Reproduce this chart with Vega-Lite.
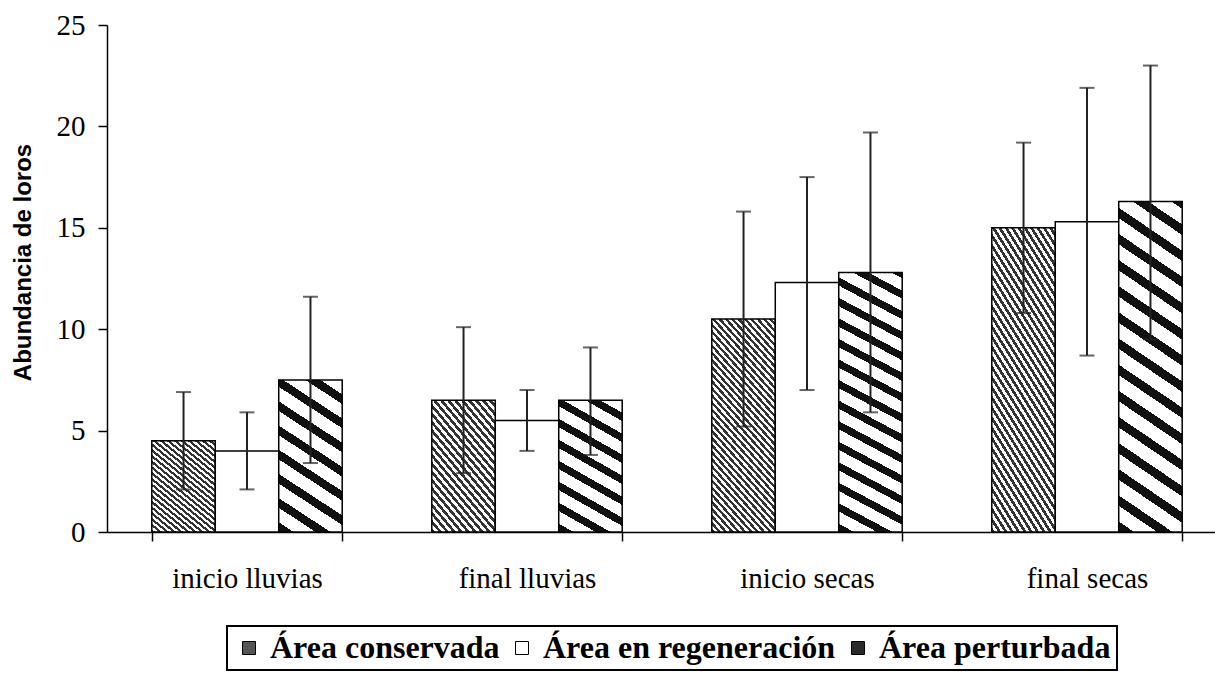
{
  "$schema": "https://vega.github.io/schema/vega-lite/v6.json",
  "width": 1108,
  "height": 507,
  "autosize": {"type": "none"},
  "padding": {"left": 107, "top": 25, "right": 0, "bottom": 143},
  "background": "white",
  "config": {
    "view": {"stroke": null},
    "axis": {"domainColor": "black", "domainWidth": 1.5, "tickColor": "black", "tickWidth": 1.5, "grid": false, "labelColor": "black"}
  },
  "data": {
    "values": [
      {"temporada": "inicio lluvias", "area": "Área conservada", "media": 4.5, "min": 2.1, "max": 6.9},
      {"temporada": "inicio lluvias", "area": "Área en regeneración", "media": 4.0, "min": 2.1, "max": 5.9},
      {"temporada": "inicio lluvias", "area": "Área perturbada", "media": 7.5, "min": 3.4, "max": 11.6},
      {"temporada": "final lluvias", "area": "Área conservada", "media": 6.5, "min": 2.9, "max": 10.1},
      {"temporada": "final lluvias", "area": "Área en regeneración", "media": 5.5, "min": 4.0, "max": 7.0},
      {"temporada": "final lluvias", "area": "Área perturbada", "media": 6.5, "min": 3.8, "max": 9.1},
      {"temporada": "inicio secas", "area": "Área conservada", "media": 10.5, "min": 5.2, "max": 15.8},
      {"temporada": "inicio secas", "area": "Área en regeneración", "media": 12.3, "min": 7.0, "max": 17.5},
      {"temporada": "inicio secas", "area": "Área perturbada", "media": 12.8, "min": 5.9, "max": 19.7},
      {"temporada": "final secas", "area": "Área conservada", "media": 15.0, "min": 10.8, "max": 19.2},
      {"temporada": "final secas", "area": "Área en regeneración", "media": 15.3, "min": 8.7, "max": 21.9},
      {"temporada": "final secas", "area": "Área perturbada", "media": 16.3, "min": 9.5, "max": 23.0}
    ]
  },
  "encoding": {
    "x": {
      "field": "temporada",
      "type": "nominal",
      "sort": ["inicio lluvias", "final lluvias", "inicio secas", "final secas"],
      "scale": {"range": [0, 1120], "paddingInner": 0.32, "paddingOuter": 0.16},
      "axis": {
        "title": null,
        "labelAngle": 0,
        "labelFont": "Liberation Serif",
        "labelFontSize": 29,
        "labelPadding": 23,
        "tickBand": "extent",
        "tickSize": 9
      }
    },
    "xOffset": {
      "field": "area",
      "type": "nominal",
      "sort": ["Área conservada", "Área en regeneración", "Área perturbada"],
      "scale": {"paddingInner": 0, "paddingOuter": 0}
    }
  },
  "layer": [
    {
      "mark": {"type": "bar", "stroke": "black", "strokeWidth": 1.5},
      "encoding": {
        "y": {
          "field": "media",
          "type": "quantitative",
          "title": "Abundancia de loros",
          "scale": {"domain": [0, 25], "nice": false},
          "axis": {
            "values": [0, 5, 10, 15, 20, 25],
            "labelFont": "Liberation Serif",
            "labelFontSize": 29,
            "labelPadding": 13,
            "tickSize": 9,
            "titleFont": "Liberation Sans",
            "titleFontSize": 24,
            "titleFontWeight": "bold",
            "titleColor": "black",
            "titleAngle": -90,
            "titleAlign": "center",
            "titleBaseline": "middle",
            "titleX": -84,
            "titleY": 237
          }
        },
        "fill": {
          "field": "area",
          "type": "nominal",
          "scale": {
            "domain": ["Área conservada", "Área en regeneración", "Área perturbada"],
            "range": ["#555555", "#ffffff", "#2a2a2a"]
          },
          "condition": [
            {
              "test": "datum.area === 'Área conservada' && indexof(datum.temporada, 'lluvias') >= 0",
              "value": {
                "gradient": "linear", "x1": 0, "y1": 1, "x2": 0.677, "y2": -0.185,
                "stops": [
                  {"offset": 0, "color": "#333"}, {"offset": 0.02, "color": "#333"}, {"offset": 0.02, "color": "#fff"}, {"offset": 0.04, "color": "#fff"},
                  {"offset": 0.04, "color": "#333"}, {"offset": 0.06, "color": "#333"}, {"offset": 0.06, "color": "#fff"}, {"offset": 0.08, "color": "#fff"},
                  {"offset": 0.08, "color": "#333"}, {"offset": 0.1, "color": "#333"}, {"offset": 0.1, "color": "#fff"}, {"offset": 0.12, "color": "#fff"},
                  {"offset": 0.12, "color": "#333"}, {"offset": 0.14, "color": "#333"}, {"offset": 0.14, "color": "#fff"}, {"offset": 0.16, "color": "#fff"},
                  {"offset": 0.16, "color": "#333"}, {"offset": 0.18, "color": "#333"}, {"offset": 0.18, "color": "#fff"}, {"offset": 0.2, "color": "#fff"},
                  {"offset": 0.2, "color": "#333"}, {"offset": 0.22, "color": "#333"}, {"offset": 0.22, "color": "#fff"}, {"offset": 0.24, "color": "#fff"},
                  {"offset": 0.24, "color": "#333"}, {"offset": 0.26, "color": "#333"}, {"offset": 0.26, "color": "#fff"}, {"offset": 0.28, "color": "#fff"},
                  {"offset": 0.28, "color": "#333"}, {"offset": 0.3, "color": "#333"}, {"offset": 0.3, "color": "#fff"}, {"offset": 0.32, "color": "#fff"},
                  {"offset": 0.32, "color": "#333"}, {"offset": 0.34, "color": "#333"}, {"offset": 0.34, "color": "#fff"}, {"offset": 0.36, "color": "#fff"},
                  {"offset": 0.36, "color": "#333"}, {"offset": 0.38, "color": "#333"}, {"offset": 0.38, "color": "#fff"}, {"offset": 0.4, "color": "#fff"},
                  {"offset": 0.4, "color": "#333"}, {"offset": 0.42, "color": "#333"}, {"offset": 0.42, "color": "#fff"}, {"offset": 0.44, "color": "#fff"},
                  {"offset": 0.44, "color": "#333"}, {"offset": 0.46, "color": "#333"}, {"offset": 0.46, "color": "#fff"}, {"offset": 0.48, "color": "#fff"},
                  {"offset": 0.48, "color": "#333"}, {"offset": 0.5, "color": "#333"}, {"offset": 0.5, "color": "#fff"}, {"offset": 0.52, "color": "#fff"},
                  {"offset": 0.52, "color": "#333"}, {"offset": 0.54, "color": "#333"}, {"offset": 0.54, "color": "#fff"}, {"offset": 0.56, "color": "#fff"},
                  {"offset": 0.56, "color": "#333"}, {"offset": 0.58, "color": "#333"}, {"offset": 0.58, "color": "#fff"}, {"offset": 0.6, "color": "#fff"},
                  {"offset": 0.6, "color": "#333"}, {"offset": 0.62, "color": "#333"}, {"offset": 0.62, "color": "#fff"}, {"offset": 0.64, "color": "#fff"},
                  {"offset": 0.64, "color": "#333"}, {"offset": 0.66, "color": "#333"}, {"offset": 0.66, "color": "#fff"}, {"offset": 0.68, "color": "#fff"},
                  {"offset": 0.68, "color": "#333"}, {"offset": 0.7, "color": "#333"}, {"offset": 0.7, "color": "#fff"}, {"offset": 0.72, "color": "#fff"},
                  {"offset": 0.72, "color": "#333"}, {"offset": 0.74, "color": "#333"}, {"offset": 0.74, "color": "#fff"}, {"offset": 0.76, "color": "#fff"},
                  {"offset": 0.76, "color": "#333"}, {"offset": 0.78, "color": "#333"}, {"offset": 0.78, "color": "#fff"}, {"offset": 0.8, "color": "#fff"},
                  {"offset": 0.8, "color": "#333"}, {"offset": 0.82, "color": "#333"}, {"offset": 0.82, "color": "#fff"}, {"offset": 0.84, "color": "#fff"},
                  {"offset": 0.84, "color": "#333"}, {"offset": 0.86, "color": "#333"}, {"offset": 0.86, "color": "#fff"}, {"offset": 0.88, "color": "#fff"},
                  {"offset": 0.88, "color": "#333"}, {"offset": 0.9, "color": "#333"}, {"offset": 0.9, "color": "#fff"}, {"offset": 0.92, "color": "#fff"},
                  {"offset": 0.92, "color": "#333"}, {"offset": 0.94, "color": "#333"}, {"offset": 0.94, "color": "#fff"}, {"offset": 0.96, "color": "#fff"},
                  {"offset": 0.96, "color": "#333"}, {"offset": 0.98, "color": "#333"}, {"offset": 0.98, "color": "#fff"}, {"offset": 1, "color": "#fff"}
                ]
              }
            },
            {
              "test": "datum.area === 'Área conservada'",
              "value": {
                "gradient": "linear", "x1": 0, "y1": 1, "x2": 0.4, "y2": -0.2,
                "stops": [
                  {"offset": 0, "color": "#333"}, {"offset": 0.0125, "color": "#333"}, {"offset": 0.0125, "color": "#fff"}, {"offset": 0.025, "color": "#fff"},
                  {"offset": 0.025, "color": "#333"}, {"offset": 0.0375, "color": "#333"}, {"offset": 0.0375, "color": "#fff"}, {"offset": 0.05, "color": "#fff"},
                  {"offset": 0.05, "color": "#333"}, {"offset": 0.0625, "color": "#333"}, {"offset": 0.0625, "color": "#fff"}, {"offset": 0.075, "color": "#fff"},
                  {"offset": 0.075, "color": "#333"}, {"offset": 0.0875, "color": "#333"}, {"offset": 0.0875, "color": "#fff"}, {"offset": 0.1, "color": "#fff"},
                  {"offset": 0.1, "color": "#333"}, {"offset": 0.1125, "color": "#333"}, {"offset": 0.1125, "color": "#fff"}, {"offset": 0.125, "color": "#fff"},
                  {"offset": 0.125, "color": "#333"}, {"offset": 0.1375, "color": "#333"}, {"offset": 0.1375, "color": "#fff"}, {"offset": 0.15, "color": "#fff"},
                  {"offset": 0.15, "color": "#333"}, {"offset": 0.1625, "color": "#333"}, {"offset": 0.1625, "color": "#fff"}, {"offset": 0.175, "color": "#fff"},
                  {"offset": 0.175, "color": "#333"}, {"offset": 0.1875, "color": "#333"}, {"offset": 0.1875, "color": "#fff"}, {"offset": 0.2, "color": "#fff"},
                  {"offset": 0.2, "color": "#333"}, {"offset": 0.2125, "color": "#333"}, {"offset": 0.2125, "color": "#fff"}, {"offset": 0.225, "color": "#fff"},
                  {"offset": 0.225, "color": "#333"}, {"offset": 0.2375, "color": "#333"}, {"offset": 0.2375, "color": "#fff"}, {"offset": 0.25, "color": "#fff"},
                  {"offset": 0.25, "color": "#333"}, {"offset": 0.2625, "color": "#333"}, {"offset": 0.2625, "color": "#fff"}, {"offset": 0.275, "color": "#fff"},
                  {"offset": 0.275, "color": "#333"}, {"offset": 0.2875, "color": "#333"}, {"offset": 0.2875, "color": "#fff"}, {"offset": 0.3, "color": "#fff"},
                  {"offset": 0.3, "color": "#333"}, {"offset": 0.3125, "color": "#333"}, {"offset": 0.3125, "color": "#fff"}, {"offset": 0.325, "color": "#fff"},
                  {"offset": 0.325, "color": "#333"}, {"offset": 0.3375, "color": "#333"}, {"offset": 0.3375, "color": "#fff"}, {"offset": 0.35, "color": "#fff"},
                  {"offset": 0.35, "color": "#333"}, {"offset": 0.3625, "color": "#333"}, {"offset": 0.3625, "color": "#fff"}, {"offset": 0.375, "color": "#fff"},
                  {"offset": 0.375, "color": "#333"}, {"offset": 0.3875, "color": "#333"}, {"offset": 0.3875, "color": "#fff"}, {"offset": 0.4, "color": "#fff"},
                  {"offset": 0.4, "color": "#333"}, {"offset": 0.4125, "color": "#333"}, {"offset": 0.4125, "color": "#fff"}, {"offset": 0.425, "color": "#fff"},
                  {"offset": 0.425, "color": "#333"}, {"offset": 0.4375, "color": "#333"}, {"offset": 0.4375, "color": "#fff"}, {"offset": 0.45, "color": "#fff"},
                  {"offset": 0.45, "color": "#333"}, {"offset": 0.4625, "color": "#333"}, {"offset": 0.4625, "color": "#fff"}, {"offset": 0.475, "color": "#fff"},
                  {"offset": 0.475, "color": "#333"}, {"offset": 0.4875, "color": "#333"}, {"offset": 0.4875, "color": "#fff"}, {"offset": 0.5, "color": "#fff"},
                  {"offset": 0.5, "color": "#333"}, {"offset": 0.5125, "color": "#333"}, {"offset": 0.5125, "color": "#fff"}, {"offset": 0.525, "color": "#fff"},
                  {"offset": 0.525, "color": "#333"}, {"offset": 0.5375, "color": "#333"}, {"offset": 0.5375, "color": "#fff"}, {"offset": 0.55, "color": "#fff"},
                  {"offset": 0.55, "color": "#333"}, {"offset": 0.5625, "color": "#333"}, {"offset": 0.5625, "color": "#fff"}, {"offset": 0.575, "color": "#fff"},
                  {"offset": 0.575, "color": "#333"}, {"offset": 0.5875, "color": "#333"}, {"offset": 0.5875, "color": "#fff"}, {"offset": 0.6, "color": "#fff"},
                  {"offset": 0.6, "color": "#333"}, {"offset": 0.6125, "color": "#333"}, {"offset": 0.6125, "color": "#fff"}, {"offset": 0.625, "color": "#fff"},
                  {"offset": 0.625, "color": "#333"}, {"offset": 0.6375, "color": "#333"}, {"offset": 0.6375, "color": "#fff"}, {"offset": 0.65, "color": "#fff"},
                  {"offset": 0.65, "color": "#333"}, {"offset": 0.6625, "color": "#333"}, {"offset": 0.6625, "color": "#fff"}, {"offset": 0.675, "color": "#fff"},
                  {"offset": 0.675, "color": "#333"}, {"offset": 0.6875, "color": "#333"}, {"offset": 0.6875, "color": "#fff"}, {"offset": 0.7, "color": "#fff"},
                  {"offset": 0.7, "color": "#333"}, {"offset": 0.7125, "color": "#333"}, {"offset": 0.7125, "color": "#fff"}, {"offset": 0.725, "color": "#fff"},
                  {"offset": 0.725, "color": "#333"}, {"offset": 0.7375, "color": "#333"}, {"offset": 0.7375, "color": "#fff"}, {"offset": 0.75, "color": "#fff"},
                  {"offset": 0.75, "color": "#333"}, {"offset": 0.7625, "color": "#333"}, {"offset": 0.7625, "color": "#fff"}, {"offset": 0.775, "color": "#fff"},
                  {"offset": 0.775, "color": "#333"}, {"offset": 0.7875, "color": "#333"}, {"offset": 0.7875, "color": "#fff"}, {"offset": 0.8, "color": "#fff"},
                  {"offset": 0.8, "color": "#333"}, {"offset": 0.8125, "color": "#333"}, {"offset": 0.8125, "color": "#fff"}, {"offset": 0.825, "color": "#fff"},
                  {"offset": 0.825, "color": "#333"}, {"offset": 0.8375, "color": "#333"}, {"offset": 0.8375, "color": "#fff"}, {"offset": 0.85, "color": "#fff"},
                  {"offset": 0.85, "color": "#333"}, {"offset": 0.8625, "color": "#333"}, {"offset": 0.8625, "color": "#fff"}, {"offset": 0.875, "color": "#fff"},
                  {"offset": 0.875, "color": "#333"}, {"offset": 0.8875, "color": "#333"}, {"offset": 0.8875, "color": "#fff"}, {"offset": 0.9, "color": "#fff"},
                  {"offset": 0.9, "color": "#333"}, {"offset": 0.9125, "color": "#333"}, {"offset": 0.9125, "color": "#fff"}, {"offset": 0.925, "color": "#fff"},
                  {"offset": 0.925, "color": "#333"}, {"offset": 0.9375, "color": "#333"}, {"offset": 0.9375, "color": "#fff"}, {"offset": 0.95, "color": "#fff"},
                  {"offset": 0.95, "color": "#333"}, {"offset": 0.9625, "color": "#333"}, {"offset": 0.9625, "color": "#fff"}, {"offset": 0.975, "color": "#fff"},
                  {"offset": 0.975, "color": "#333"}, {"offset": 0.9875, "color": "#333"}, {"offset": 0.9875, "color": "#fff"}, {"offset": 1, "color": "#fff"}
                ]
              }
            },
            {
              "test": "datum.area === 'Área perturbada' && indexof(datum.temporada, 'lluvias') >= 0",
              "value": {
                "gradient": "linear", "x1": 0, "y1": 1, "x2": 0.3232, "y2": -0.185,
                "stops": [
                  {"offset": 0, "color": "#111"}, {"offset": 0.05, "color": "#111"}, {"offset": 0.05, "color": "#fff"}, {"offset": 0.125, "color": "#fff"},
                  {"offset": 0.125, "color": "#111"}, {"offset": 0.175, "color": "#111"}, {"offset": 0.175, "color": "#fff"}, {"offset": 0.25, "color": "#fff"},
                  {"offset": 0.25, "color": "#111"}, {"offset": 0.3, "color": "#111"}, {"offset": 0.3, "color": "#fff"}, {"offset": 0.375, "color": "#fff"},
                  {"offset": 0.375, "color": "#111"}, {"offset": 0.425, "color": "#111"}, {"offset": 0.425, "color": "#fff"}, {"offset": 0.5, "color": "#fff"},
                  {"offset": 0.5, "color": "#111"}, {"offset": 0.55, "color": "#111"}, {"offset": 0.55, "color": "#fff"}, {"offset": 0.625, "color": "#fff"},
                  {"offset": 0.625, "color": "#111"}, {"offset": 0.675, "color": "#111"}, {"offset": 0.675, "color": "#fff"}, {"offset": 0.75, "color": "#fff"},
                  {"offset": 0.75, "color": "#111"}, {"offset": 0.8, "color": "#111"}, {"offset": 0.8, "color": "#fff"}, {"offset": 0.875, "color": "#fff"},
                  {"offset": 0.875, "color": "#111"}, {"offset": 0.925, "color": "#111"}, {"offset": 0.925, "color": "#fff"}, {"offset": 1, "color": "#fff"}
                ]
              }
            },
            {
              "test": "datum.area === 'Área perturbada'",
              "value": {
                "gradient": "linear", "x1": 0, "y1": 1, "x2": 0.145, "y2": -0.1115,
                "stops": [
                  {"offset": 0, "color": "#111"}, {"offset": 0.028, "color": "#111"}, {"offset": 0.028, "color": "#fff"}, {"offset": 0.07, "color": "#fff"},
                  {"offset": 0.07, "color": "#111"}, {"offset": 0.098, "color": "#111"}, {"offset": 0.098, "color": "#fff"}, {"offset": 0.14, "color": "#fff"},
                  {"offset": 0.14, "color": "#111"}, {"offset": 0.168, "color": "#111"}, {"offset": 0.168, "color": "#fff"}, {"offset": 0.21, "color": "#fff"},
                  {"offset": 0.21, "color": "#111"}, {"offset": 0.238, "color": "#111"}, {"offset": 0.238, "color": "#fff"}, {"offset": 0.28, "color": "#fff"},
                  {"offset": 0.28, "color": "#111"}, {"offset": 0.308, "color": "#111"}, {"offset": 0.308, "color": "#fff"}, {"offset": 0.35, "color": "#fff"},
                  {"offset": 0.35, "color": "#111"}, {"offset": 0.378, "color": "#111"}, {"offset": 0.378, "color": "#fff"}, {"offset": 0.42, "color": "#fff"},
                  {"offset": 0.42, "color": "#111"}, {"offset": 0.448, "color": "#111"}, {"offset": 0.448, "color": "#fff"}, {"offset": 0.49, "color": "#fff"},
                  {"offset": 0.49, "color": "#111"}, {"offset": 0.518, "color": "#111"}, {"offset": 0.518, "color": "#fff"}, {"offset": 0.56, "color": "#fff"},
                  {"offset": 0.56, "color": "#111"}, {"offset": 0.588, "color": "#111"}, {"offset": 0.588, "color": "#fff"}, {"offset": 0.63, "color": "#fff"},
                  {"offset": 0.63, "color": "#111"}, {"offset": 0.658, "color": "#111"}, {"offset": 0.658, "color": "#fff"}, {"offset": 0.7, "color": "#fff"},
                  {"offset": 0.7, "color": "#111"}, {"offset": 0.728, "color": "#111"}, {"offset": 0.728, "color": "#fff"}, {"offset": 0.77, "color": "#fff"},
                  {"offset": 0.77, "color": "#111"}, {"offset": 0.798, "color": "#111"}, {"offset": 0.798, "color": "#fff"}, {"offset": 0.84, "color": "#fff"},
                  {"offset": 0.84, "color": "#111"}, {"offset": 0.868, "color": "#111"}, {"offset": 0.868, "color": "#fff"}, {"offset": 0.91, "color": "#fff"},
                  {"offset": 0.91, "color": "#111"}, {"offset": 0.938, "color": "#111"}, {"offset": 0.938, "color": "#fff"}, {"offset": 0.98, "color": "#fff"},
                  {"offset": 0.98, "color": "#111"}, {"offset": 1, "color": "#111"}
                ]
              }
            }
          ],
          "legend": {
            "title": null,
            "orient": "none",
            "legendX": 120,
            "legendY": 601,
            "direction": "horizontal",
            "padding": 6,
            "strokeColor": "black",
            "symbolType": "square",
            "symbolSize": 169,
            "symbolStrokeColor": "black",
            "symbolStrokeWidth": 1,
            "symbolOpacity": 1,
            "labelFont": "Liberation Serif",
            "labelFontWeight": "bold",
            "labelFontSize": 32,
            "labelColor": "black",
            "labelOffset": 5,
            "labelLimit": 500,
            "columnPadding": 6,
            "encode": {"legend": {"update": {"strokeWidth": {"value": 2}}}}
          }
        }
      }
    },
    {
      "mark": {"type": "rule", "color": "#222", "strokeWidth": 2},
      "encoding": {
        "y": {"field": "min", "type": "quantitative", "title": "Abundancia de loros"},
        "y2": {"field": "max"}
      }
    },
    {
      "mark": {"type": "tick", "color": "#222", "thickness": 2, "size": 15},
      "encoding": {
        "y": {"field": "min", "type": "quantitative", "title": "Abundancia de loros"}
      }
    },
    {
      "mark": {"type": "tick", "color": "#222", "thickness": 2, "size": 15},
      "encoding": {
        "y": {"field": "max", "type": "quantitative", "title": "Abundancia de loros"}
      }
    }
  ]
}
